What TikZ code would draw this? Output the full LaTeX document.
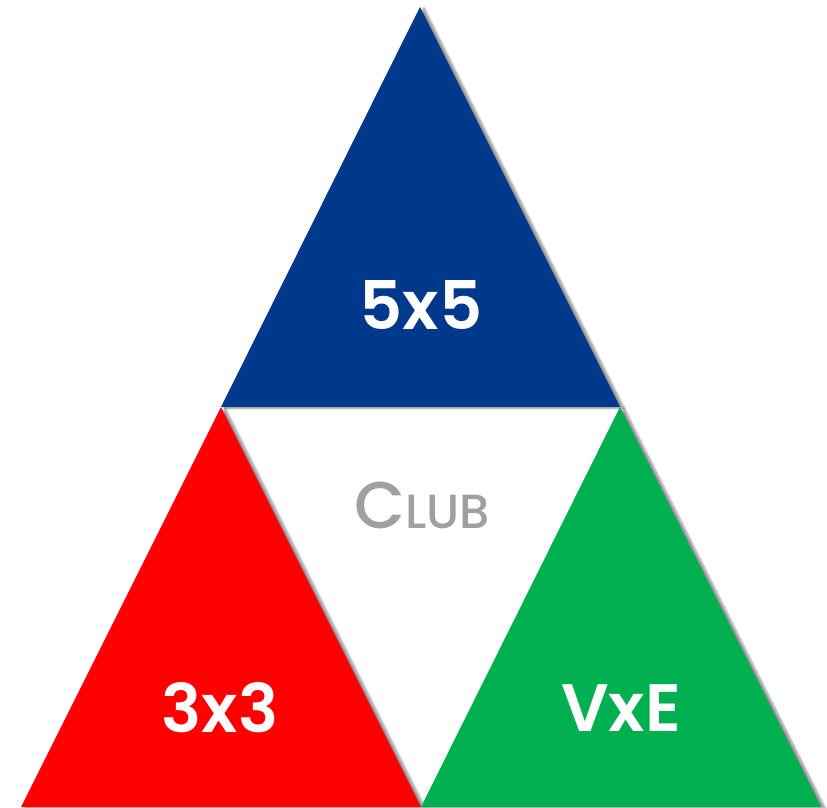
\documentclass[tikz,border=0pt]{standalone}
\usepackage{fontspec}
\setmainfont{Poppins}
\newfontfamily\semib{Poppins SemiBold}
\newfontfamily\medf{Poppins Medium}
\usetikzlibrary{shadows.blur}
\definecolor{clubblue}{RGB}{0,56,140}
\definecolor{clubred}{RGB}{255,0,0}
\definecolor{clubgreen}{RGB}{0,176,80}
\definecolor{clubgray}{RGB}{160,160,160}

\begin{document}
\begin{tikzpicture}[x=1pt,y=-1pt]
  \tikzstyle{tri}=[blur shadow={shadow xshift=4pt,shadow yshift=-1pt,shadow blur steps=8,shadow opacity=45}]
  \tikzstyle{big}=[text=white,font=\semib\fontsize{67}{67}\selectfont]

  \useasboundingbox (0,0) rectangle (827,807);

  % corners
  \coordinate (T)  at (420,7);
  \coordinate (L)  at (221,407);
  \coordinate (R)  at (620,407);
  \coordinate (BL) at (21,807);
  \coordinate (BM) at (421,807);
  \coordinate (BR) at (821,807);

  \fill[clubblue,tri]  (T) -- (R) -- (L) -- cycle;
  \fill[clubred,tri]   (L) -- (BM) -- (BL) -- cycle;
  \fill[clubgreen,tri] (R) -- (BR) -- (BM) -- cycle;

  \node[big] (five)  at (421,305) {5x5};
  \node[big] (three) at (220,708) {3x3};
  \node[big] (vxe)   at (621,708) {VxE};
  \node[text=clubgray,font=\medf] (club) at (422,505)
    {\fontsize{66}{66}\selectfont C\fontsize{48}{48}\selectfont LUB};
\end{tikzpicture}
\end{document}
